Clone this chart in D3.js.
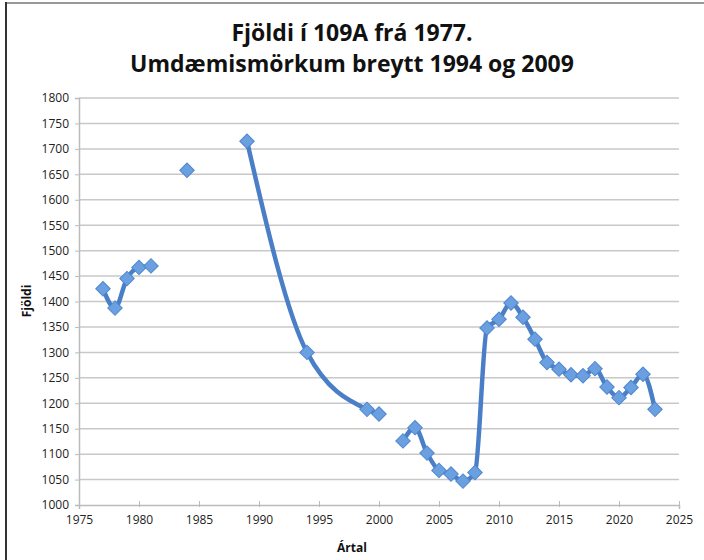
<!DOCTYPE html>
<html><head><meta charset="utf-8">
<script src="https://cdn.jsdelivr.net/npm/d3@7"></script>
<style>body{margin:0;background:#fff;} text{font-family:"Open Sans",sans-serif;}</style>
</head><body>
<svg id="c" width="704" height="560"></svg>
<script>
const years  = [1977,1978,1979,1980,1981,1982,1984,1985,1989,1994,1999,2000,2001,2002,2003,2004,2005,2006,2007,2008,2009,2010,2011,2012,2013,2014,2015,2016,2017,2018,2019,2020,2021,2022,2023];
const values = [1425,1387,1445,1467,1470,null,1658,null,1715,1300,1188,1179,null,1126,1152,1102,1068,1061,1047,1064,1348,1365,1397,1369,1326,1280,1267,1256,1254,1268,1232,1211,1231,1257,1188];
const xTicks = [1975,1980,1985,1990,1995,2000,2005,2010,2015,2020,2025];
const yTicks = [1000,1050,1100,1150,1200,1250,1300,1350,1400,1450,1500,1550,1600,1650,1700,1750,1800];
const titleLines = ["Fjöldi í 109A frá 1977.","Umdæmismörkum breytt 1994 og 2009"];
const xLabel = "Ártal", yLabel = "Fjöldi";

const svg = d3.select("#c");
const L=79, R=679, T=98, B=505;
const x = d3.scaleLinear().domain([1975,2025]).range([L,R]);
const y = d3.scaleLinear().domain([1000,1800]).range([B,T]);

// frame
svg.append("line").attr("x1",6).attr("x2",704).attr("y1",3).attr("y2",3).attr("stroke","#999").attr("stroke-width",2);
svg.append("line").attr("x1",6).attr("x2",6).attr("y1",2).attr("y2",560).attr("stroke","#333").attr("stroke-width",2);

// gridlines
svg.append("g").selectAll("line").data(yTicks.filter(d=>d>1000)).join("line")
  .attr("x1",L).attr("x2",R).attr("y1",d=>y(d)).attr("y2",d=>y(d))
  .attr("stroke","#c8c8c8").attr("stroke-width",1.5);

// y axis
const ya = svg.append("g").attr("transform",`translate(${L},0)`)
  .call(d3.axisLeft(y).tickValues(yTicks).tickSize(4).tickPadding(6).tickFormat(d3.format("d")));
ya.select(".domain").attr("stroke","#bbb").attr("stroke-width",1.5);
ya.selectAll(".tick line").attr("stroke","#bbb");
ya.selectAll("text").attr("font-size",12).attr("fill","#222").style("font-family","'Open Sans',sans-serif");

// x axis
const xa = svg.append("g").attr("transform",`translate(0,${B})`)
  .call(d3.axisBottom(x).tickValues(xTicks).tickSize(4).tickPadding(6).tickFormat(d3.format("d")));
xa.select(".domain").attr("stroke","#bbb").attr("stroke-width",1.5);
xa.selectAll(".tick line").attr("stroke","#bbb").attr("y1",-4).attr("y2",2);
xa.selectAll("text").attr("font-size",12).attr("fill","#222").style("font-family","'Open Sans',sans-serif");

// line
const pts = years.map((d,i)=>({yr:d,v:values[i]}));
const line = d3.line().defined(d=>d.v!==null).x(d=>x(d.yr)).y(d=>y(d.v)).curve(d3.curveMonotoneX);
svg.append("path").datum(pts).attr("d",line).attr("fill","none")
  .attr("stroke","#4a7fc8").attr("stroke-width",4.5).attr("stroke-linejoin","round").attr("stroke-linecap","round");

// markers (rotated squares)
svg.append("g").selectAll("path").data(pts.filter(d=>d.v!==null)).join("path")
  .attr("d",d3.symbol(d3.symbolSquare,105)())
  .attr("transform",d=>`translate(${x(d.yr)},${y(d.v)}) rotate(45)`)
  .attr("fill","#6a9fe0").attr("stroke","#4f86cf").attr("stroke-width",1);

// titles
svg.append("g").selectAll("text").data(titleLines).join("text")
  .attr("x",352).attr("y",(d,i)=>41+i*31).attr("text-anchor","middle")
  .attr("font-size",23).attr("font-weight","bold").attr("fill","#111").text(d=>d);

svg.append("text").attr("x",352).attr("y",552).attr("text-anchor","middle")
  .attr("font-size",12).attr("font-weight","bold").attr("fill","#111").text(xLabel);
svg.append("text").attr("transform","translate(31,301) rotate(-90)").attr("text-anchor","middle")
  .attr("font-size",12).attr("font-weight","bold").attr("fill","#111").text(yLabel);
</script>
</body></html>
